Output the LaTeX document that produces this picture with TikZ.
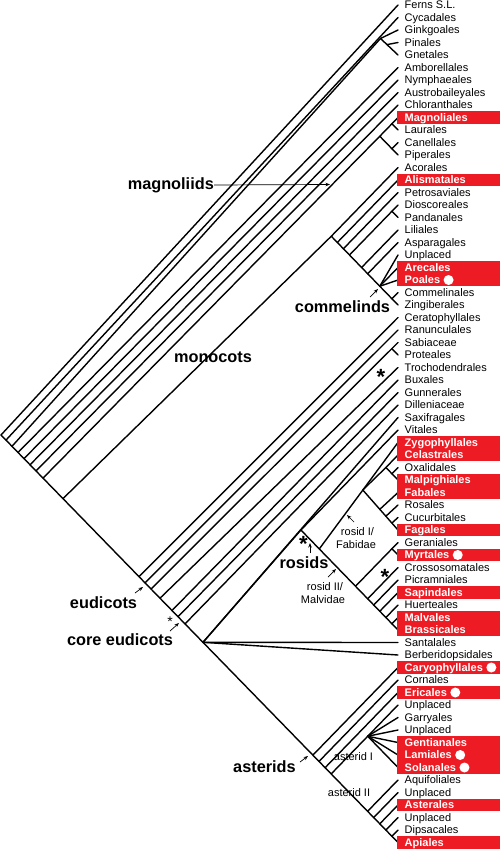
\documentclass[tikz,border=0pt]{standalone}
\usepackage{fontspec}
\setmainfont{Liberation Sans}
\usetikzlibrary{arrows.meta}
\definecolor{hired}{RGB}{237,28,36}
\tikzset{
  branch/.style={line width=1.4pt,line cap=round},
  pointer/.style={line width=0.7pt,-{Stealth[length=4.5pt,width=3.5pt]}},
  plain/.style={anchor=west,xshift=6.5pt,inner xsep=0pt,inner ysep=0pt,
    text height=7.9pt,text depth=0pt,font=\fontsize{11}{12}\selectfont},
  hl/.style={plain,text=white,font=\fontsize{11}{12}\selectfont\bfseries},
  hlb/.style={hl,label={[circle,fill=white,inner sep=0pt,minimum size=10pt,label distance=3pt]right:{}}},
  plain bg/.style={},
  hl bg/.style={fill=hired},
  hlb bg/.style={fill=hired},
  clade/.style={font=\fontsize{16.3}{18}\selectfont\bfseries,inner sep=0pt},
  subclade/.style={font=\fontsize{11}{12}\selectfont,inner sep=0pt,anchor=base},
  bigstar/.style={font=\fontsize{22}{22}\selectfont\bfseries,inner sep=0pt,anchor=base},
  smallstar/.style={font=\fontsize{14}{14}\selectfont,inner sep=0pt,anchor=base}
}
\begin{document}
\begin{tikzpicture}[x=1pt,y=-1pt]
\useasboundingbox (0,0) rectangle (500,851);
% leaf tips
\foreach \i in {1,...,68} \coordinate (t\i) at (398,{5+12.5*(\i-1)});
% spine
\coordinate (root) at (1,435);
\coordinate (bCyc) at (6,440.1);
\coordinate (bGnk) at (12,446.3);
\coordinate (bAmb) at (18,452.5);
\coordinate (bNym) at (24,458.6);
\coordinate (bAus) at (30,464.8);
\coordinate (bChl) at (36,470.9);
\coordinate (bMag) at (43,478.1);
\coordinate (bMon) at (63,498.6);
\coordinate (bCer) at (139,576.6);
\coordinate (bRan) at (145,582.8);
\coordinate (bSab) at (151,589);
\coordinate (bTro) at (160,598.2);
\coordinate (bBux) at (172,610.5);
\coordinate (bGun) at (178,616.7);
\coordinate (bDil) at (185,623.9);
\coordinate (core) at (203,642.3);
\coordinate (caryo) at (312.9,755.1);
\coordinate (aster) at (319,761.4);
\coordinate (eric) at (325.1,767.7);
\coordinate (euast) at (331.2,773.9);
\coordinate (camp) at (367.6,811.3);
\coordinate (campb) at (373.7,817.5);
\coordinate (campc) at (379.8,823.8);
\coordinate (campd) at (385.9,830.1);
\coordinate (campe) at (391.9,836.2);
% clades near the tips
\coordinate (gnk) at (380.5,38.5);
\coordinate (pigne) at (387,44.6);
\coordinate (mag) at (379.8,136.25);
\coordinate (magla) at (391.9,123.75);
\coordinate (canpi) at (391.9,148.75);
\coordinate (mono) at (331.3,236.25);
\coordinate (alis) at (337.3,242.5);
\coordinate (petro) at (343.4,248.75);
\coordinate (dios) at (349.5,255);
\coordinate (diopan) at (391.9,211.25);
\coordinate (lili) at (361.6,267.5);
\coordinate (aspa) at (367.7,273.75);
\coordinate (comm) at (379.8,286.25);
\coordinate (comzi) at (391.9,298.75);
\coordinate (sabpro) at (391.9,348.75);
\coordinate (rosid) at (300.9,530);
\coordinate (fm) at (319.3,548.9);
\coordinate (comn) at (362.8,490);
\coordinate (com) at (385.9,467.5);
\coordinate (oxma) at (391.9,473.75);
\coordinate (nfix) at (379.8,509.3);
\coordinate (rcf) at (385.9,516.2);
\coordinate (cufa) at (391.9,523);
\coordinate (malvid) at (355.5,586.25);
\coordinate (gemy) at (391.9,548.75);
\coordinate (cross) at (367.7,598.75);
\coordinate (picr) at (373.7,605);
\coordinate (sapi) at (379.8,611.25);
\coordinate (huer) at (385.9,617.5);
\coordinate (mabr) at (391.9,623.75);
\coordinate (lamiid) at (367.7,736.25);
% branches
\foreach \a/\b in {root/t68,root/t1,bCyc/t2,bGnk/gnk,gnk/t3,gnk/t5,pigne/t4,
  bAmb/t6,bNym/t7,bAus/t8,bChl/t9,bMag/mag,mag/t10,mag/t13,magla/t11,canpi/t12,
  bMon/mono,mono/t14,mono/t25,alis/t15,petro/t16,dios/t17,diopan/t18,lili/t19,
  aspa/t20,comm/t21,comm/t22,comm/t23,comzi/t24,
  bCer/t26,bRan/t27,bSab/t28,sabpro/t29,bTro/t30,bBux/t31,bGun/t32,bDil/t33,
  core/t34,core/rosid,core/t52,core/t53,rosid/t35,rosid/t51,fm/t36,comn/t43,
  comn/com,com/t37,com/t39,oxma/t38,nfix/t40,rcf/t41,cufa/t42,
  malvid/t44,gemy/t45,cross/t46,picr/t47,sapi/t48,huer/t49,mabr/t50,
  caryo/t54,aster/t55,eric/t56,euast/lamiid,lamiid/t57,lamiid/t58,lamiid/t59,
  lamiid/t60,lamiid/t61,lamiid/t62,camp/t63,campb/t64,campc/t65,campd/t66,campe/t67}
  \draw[branch] (\a) -- (\b);
% orders
\foreach \name/\kind [count=\i] in {Ferns S.L./plain,Cycadales/plain,Ginkgoales/plain,
  Pinales/plain,Gnetales/plain,Amborellales/plain,Nymphaeales/plain,
  Austrobaileyales/plain,Chloranthales/plain,Magnoliales/hl,Laurales/plain,
  Canellales/plain,Piperales/plain,Acorales/plain,Alismatales/hl,Petrosaviales/plain,
  Dioscoreales/plain,Pandanales/plain,Liliales/plain,Asparagales/plain,Unplaced/plain,
  Arecales/hl,Poales/hlb,Commelinales/plain,Zingiberales/plain,Ceratophyllales/plain,
  Ranunculales/plain,Sabiaceae/plain,Proteales/plain,Trochodendrales/plain,
  Buxales/plain,Gunnerales/plain,Dilleniaceae/plain,Saxifragales/plain,Vitales/plain,
  Zygophyllales/hl,Celastrales/hl,Oxalidales/plain,Malpighiales/hl,Fabales/hl,
  Rosales/plain,Cucurbitales/plain,Fagales/hl,Geraniales/plain,Myrtales/hlb,
  Crossosomatales/plain,Picramniales/plain,Sapindales/hl,Huerteales/plain,
  Malvales/hl,Brassicales/hl,Santalales/plain,Berberidopsidales/plain,
  Caryophyllales/hlb,Cornales/plain,Ericales/hlb,Unplaced/plain,Garryales/plain,
  Unplaced/plain,Gentianales/hl,Lamiales/hlb,Solanales/hlb,Aquifoliales/plain,
  Unplaced/plain,Asterales/hl,Unplaced/plain,Dipsacales/plain,Apiales/hl}
{
  \path[\kind\space bg] ([shift={(-1pt,-6.25pt)}]t\i) rectangle ([shift={(102pt,6.25pt)}]t\i);
  \node[\kind] (l\i) at (t\i) {\name};
}
% clade names
\node[clade,anchor=east] (magnoliids) at (214,185) {magnoliids};
\node[clade,anchor=base] (monocots) at (213,362) {monocots};
\node[clade,anchor=base] (commelinds) at (342.5,312) {commelinds};
\node[clade,anchor=base] (eudicots) at (103.5,608) {eudicots};
\node[clade,anchor=base] (coreeud) at (120,645) {core eudicots};
\node[clade,anchor=base] (rosids) at (304,568) {rosids};
\node[clade,anchor=base] (asterids) at (264.5,772) {asterids};
\node[subclade] (rosidOne) at (357.5,535) {rosid I/};
\node[subclade] (fabidae) at (356,548) {Fabidae};
\node[subclade] (rosidTwo) at (325,590) {rosid II/};
\node[subclade] (malvidae) at (323,603) {Malvidae};
\node[subclade] (asteridOne) at (353.5,760) {asterid I};
\node[subclade] (asteridTwo) at (349,796) {asterid II};
\node[bigstar] (starTro) at (381,384.8) {*};
\node[bigstar] (starRos) at (303.5,551.3) {*};
\node[bigstar] (starMal) at (385,584.8) {*};
\node[smallstar] (starCore) at (170,626.1) {*};
% pointers
\coordinate (magTip) at (330,184.5);
\coordinate (comTail) at (370,297);
\coordinate (comTip) at (378,289);
\coordinate (eudTail) at (135,593);
\coordinate (eudTip) at (143,587);
\coordinate (coreTail) at (170,631);
\coordinate (coreTip) at (179,623);
\coordinate (rosTail) at (310,553);
\coordinate (rosTip) at (310,543);
\coordinate (fabTail) at (354,522);
\coordinate (fabTip) at (347,515);
\coordinate (malTail) at (328,577);
\coordinate (malTip) at (336,569);
\coordinate (astTail) at (300,762);
\coordinate (astTip) at (308,756);
\draw[pointer] (magnoliids.east) -- (magTip);
\foreach \p in {com,eud,core,ros,fab,mal,ast}
  \draw[pointer] (\p Tail) -- (\p Tip);
\end{tikzpicture}
\end{document}
